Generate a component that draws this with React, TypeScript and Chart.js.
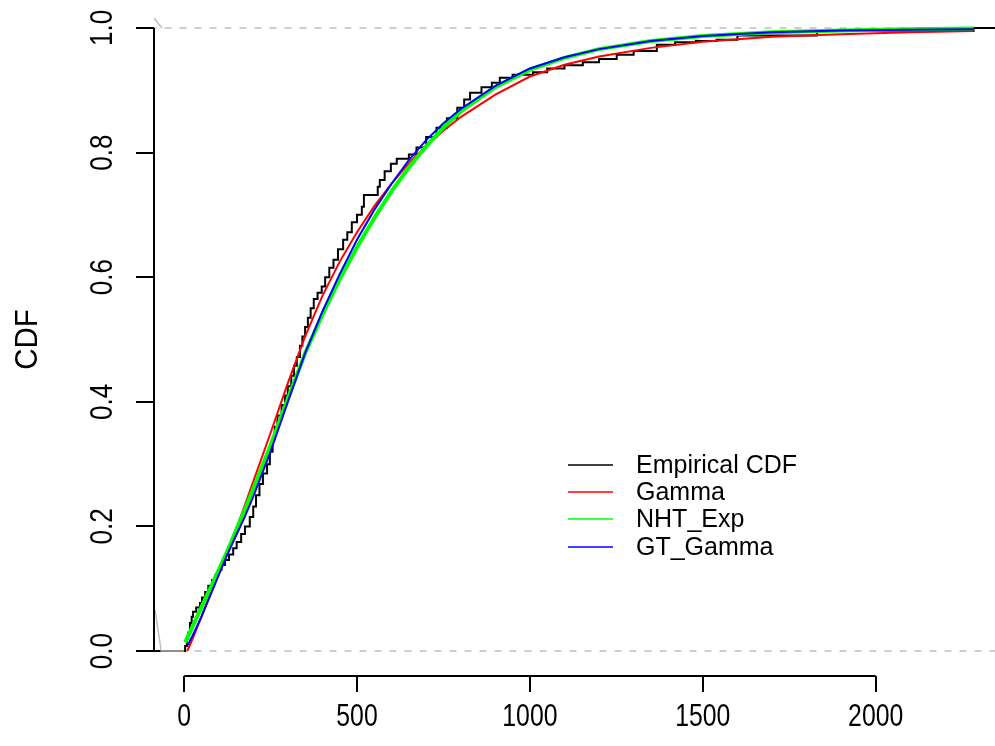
import React, { useEffect, useRef } from 'react';
import { Chart, registerables } from 'chart.js';
Chart.register(...registerables);

// Empirical CDF (step points: x where the step happens, value after the step)
const ecdfX = [-100, 3, 8, 12, 17, 22, 26, 35, 46, 52, 61, 70, 81, 90, 98, 108, 118, 130, 142, 152, 165, 176, 190, 200, 208, 218, 228, 240, 248, 256, 262, 270, 282, 292, 300, 310, 318, 326, 335, 342, 350, 358, 366, 375, 386, 398, 408, 420, 432, 445, 460, 472, 485, 500, 514, 520, 560, 566, 580, 598, 615, 650, 672, 700, 730, 760, 790, 810, 827, 860, 890, 913, 950, 1009, 1050, 1100, 1153, 1200, 1251, 1300, 1367, 1420, 1480, 1540, 1600, 1830, 2283, 2400];
const ecdfY = [0, 0.008, 0.02, 0.03, 0.045, 0.055, 0.063, 0.07, 0.077, 0.086, 0.095, 0.105, 0.114, 0.122, 0.13, 0.138, 0.146, 0.155, 0.165, 0.175, 0.188, 0.2, 0.215, 0.232, 0.25, 0.268, 0.285, 0.3, 0.32, 0.34, 0.36, 0.378, 0.395, 0.41, 0.425, 0.442, 0.458, 0.472, 0.49, 0.505, 0.52, 0.535, 0.55, 0.565, 0.575, 0.585, 0.6, 0.615, 0.628, 0.645, 0.66, 0.672, 0.688, 0.7, 0.713, 0.732, 0.745, 0.756, 0.77, 0.782, 0.79, 0.797, 0.808, 0.825, 0.84, 0.855, 0.872, 0.885, 0.896, 0.905, 0.912, 0.92, 0.925, 0.929, 0.935, 0.94, 0.945, 0.95, 0.957, 0.963, 0.973, 0.977, 0.979, 0.981, 0.988, 0.995, 1.0, 1.0];

// Gamma fit
const gammaX = [9, 25, 50, 75, 100, 125, 150, 175, 200, 250, 300, 350, 400, 450, 500, 550, 600, 650, 700, 750, 800, 900, 1000, 1100, 1200, 1350, 1500, 1700, 1900, 2100, 2283];
const gammaY = [0, 0.02, 0.055, 0.09, 0.123, 0.158, 0.195, 0.233, 0.272, 0.35, 0.43, 0.505, 0.57, 0.625, 0.672, 0.714, 0.75, 0.783, 0.811, 0.835, 0.857, 0.893, 0.922, 0.941, 0.954, 0.968, 0.978, 0.986, 0.99, 0.993, 0.995];

// NHT_Exp fit
const nhtX = [3, 25, 50, 75, 100, 125, 150, 175, 200, 250, 300, 350, 400, 450, 500, 550, 600, 650, 700, 750, 800, 900, 1000, 1100, 1200, 1350, 1500, 1700, 1900, 2100, 2283];
const nhtY = [0.014, 0.04, 0.07, 0.1, 0.13, 0.16, 0.193, 0.226, 0.26, 0.33, 0.405, 0.478, 0.54, 0.597, 0.648, 0.695, 0.738, 0.776, 0.81, 0.84, 0.866, 0.905, 0.933, 0.952, 0.966, 0.979, 0.987, 0.993, 0.996, 0.998, 0.999];

// GT_Gamma fit
const gtX = [9, 25, 50, 75, 100, 125, 150, 175, 200, 250, 300, 350, 400, 450, 500, 550, 600, 650, 700, 750, 800, 900, 1000, 1100, 1200, 1350, 1500, 1700, 1900, 2100, 2283];
const gtY = [0.008, 0.025, 0.055, 0.088, 0.122, 0.155, 0.185, 0.215, 0.248, 0.32, 0.4, 0.478, 0.545, 0.605, 0.66, 0.708, 0.75, 0.788, 0.82, 0.847, 0.87, 0.907, 0.935, 0.953, 0.966, 0.979, 0.987, 0.993, 0.996, 0.997, 0.998];

// grey helper segments near the left edge
const greyLowX = [-84, -66, 0];
const greyLowY = [0.066, 0, 0];
const greyHighX = [-87, -64];
const greyHighY = [1.016, 1.0];

// reference dashed lines
const refX = [-100, 2400];
const refY0 = [0, 0];
const refY1 = [1, 1];

const xTicks = [0, 500, 1000, 1500, 2000];
const yTicks = [0, 0.2, 0.4, 0.6, 0.8, 1.0];
const yTitle = 'CDF';

const seriesLabels = ['Empirical CDF', 'Gamma', 'NHT_Exp', 'GT_Gamma'];
const seriesColors = ['#000000', '#ff0000', '#00ff00', '#0000ff'];

const X_MIN = -87;
const X_MAX = 2345;
const Y_MIN = -0.04;
const Y_MAX = 1.04;

const FONT = '"Liberation Sans", Arial, Helvetica, sans-serif';

const zip = (xs: number[], ys: number[]) => xs.map((x, i) => ({ x, y: ys[i] }));

const rPlugin = {
  id: 'rstyle',
  afterDraw(chart: any) {
    const { ctx, chartArea } = chart;
    const xs = chart.scales.x;
    const ys = chart.scales.y;
    ctx.save();
    ctx.strokeStyle = '#000';
    ctx.lineWidth = 2;
    // axis lines spanning first to last tick
    ctx.beginPath();
    ctx.moveTo(xs.getPixelForValue(xTicks[0]), chartArea.bottom);
    ctx.lineTo(xs.getPixelForValue(xTicks[xTicks.length - 1]), chartArea.bottom);
    ctx.stroke();
    ctx.beginPath();
    ctx.moveTo(chartArea.left, ys.getPixelForValue(yTicks[0]));
    ctx.lineTo(chartArea.left, ys.getPixelForValue(yTicks[yTicks.length - 1]));
    ctx.stroke();

    ctx.fillStyle = '#000';
    ctx.font = `31px ${FONT}`;
    ctx.textAlign = 'center';
    ctx.textBaseline = 'alphabetic';
    // x tick labels
    xs.ticks.forEach((t: any) => {
      ctx.save();
      ctx.translate(xs.getPixelForValue(t.value), chartArea.bottom + 50);
      ctx.scale(0.8, 1);
      ctx.fillText(String(t.value), 0, 0);
      ctx.restore();
    });
    // y tick labels, rotated
    ys.ticks.forEach((t: any) => {
      ctx.save();
      ctx.translate(112, ys.getPixelForValue(t.value));
      ctx.rotate(-Math.PI / 2);
      ctx.scale(0.84, 1);
      ctx.fillText(t.value.toFixed(1), 0, 0);
      ctx.restore();
    });
    // y title
    ctx.save();
    ctx.translate(37, (chartArea.top + chartArea.bottom) / 2);
    ctx.rotate(-Math.PI / 2);
    ctx.scale(0.95, 1);
    ctx.fillText(yTitle, 0, 0);
    ctx.restore();

    // legend
    const rows = [465, 492, 519, 547];
    ctx.font = `25px ${FONT}`;
    ctx.textAlign = 'left';
    ctx.textBaseline = 'middle';
    seriesLabels.forEach((lab, i) => {
      ctx.strokeStyle = seriesColors[i];
      ctx.lineWidth = 1.4;
      ctx.beginPath();
      ctx.moveTo(568, rows[i]);
      ctx.lineTo(613, rows[i]);
      ctx.stroke();
      ctx.fillStyle = '#000';
      ctx.fillText(lab, 636, rows[i] + 1);
    });
    ctx.restore();
  },
};

export default function App() {
  const ref = useRef<HTMLCanvasElement | null>(null);
  useEffect(() => {
    if (!ref.current) return;
    const line = (label: string, xs: number[], ys: number[], color: string, width: number, order: number, extra: any = {}) => ({
      label,
      data: zip(xs, ys),
      borderColor: color,
      backgroundColor: color,
      borderWidth: width,
      pointRadius: 0,
      fill: false,
      tension: 0,
      order,
      ...extra,
    });
    const chart = new Chart(ref.current, {
      type: 'line',
      data: {
        datasets: [
          line('ref0', refX, refY0, '#bebebe', 1.5, 10, { borderDash: [7, 8] }),
          line('ref1', refX, refY1, '#bebebe', 1.5, 10, { borderDash: [7, 8] }),
          line(seriesLabels[0], ecdfX, ecdfY, seriesColors[0], 2, 4, { stepped: 'before' }),
          line(seriesLabels[1], gammaX, gammaY, seriesColors[1], 2, 3),
          line(seriesLabels[2], nhtX, nhtY, seriesColors[2], 4, 2),
          line(seriesLabels[3], gtX, gtY, seriesColors[3], 2, 1),
          line('greyLow', greyLowX, greyLowY, '#bebebe', 1.5, 0),
          line('greyHigh', greyHighX, greyHighY, '#bebebe', 1.5, 0),
        ],
      },
      options: {
        responsive: false,
        animation: false,
        devicePixelRatio: 1,
        layout: { padding: { top: 3, right: 0, left: 0, bottom: 0 } },
        plugins: { legend: { display: false }, tooltip: { enabled: false } },
        scales: {
          x: {
            type: 'linear',
            min: X_MIN,
            max: X_MAX,
            afterBuildTicks: (s: any) => { s.ticks = xTicks.map((v) => ({ value: v })); },
            afterFit: (s: any) => { s.height = 70; },
            border: { display: false },
            grid: { drawOnChartArea: false, drawTicks: true, tickLength: 16, color: '#000', lineWidth: 2 },
            ticks: { display: false },
          },
          y: {
            type: 'linear',
            min: Y_MIN,
            max: Y_MAX,
            afterBuildTicks: (s: any) => { s.ticks = yTicks.map((v) => ({ value: v })); },
            afterFit: (s: any) => { s.width = 154; },
            border: { display: false },
            grid: { drawOnChartArea: false, drawTicks: true, tickLength: 18, color: '#000', lineWidth: 2 },
            ticks: { display: false },
          },
        },
      },
      plugins: [rPlugin],
    });
    return () => chart.destroy();
  }, []);
  return (
    <div style={{ position: 'fixed', left: 0, top: 0, width: 995, height: 746, background: '#fff' }}>
      <canvas ref={ref} width={995} height={746} />
    </div>
  );
}
